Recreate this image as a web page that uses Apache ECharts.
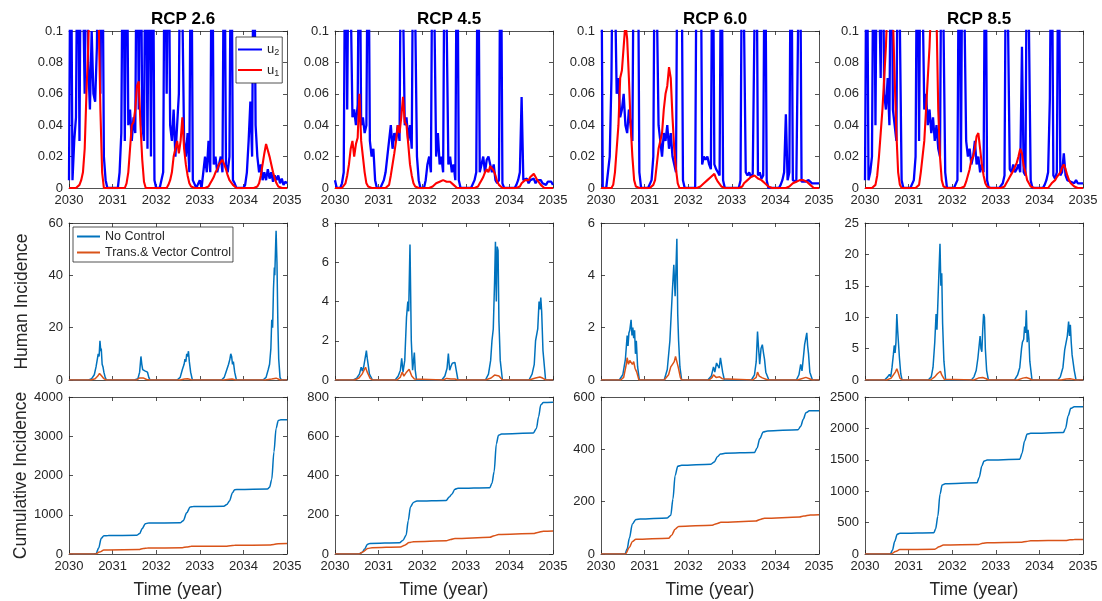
<!DOCTYPE html>
<html lang="en">
<head>
<meta charset="UTF-8">
<title>RCP scenarios: controls and incidence</title>
<script src="https://cdn.jsdelivr.net/npm/echarts@6/dist/echarts.min.js"></script>
<style>
    html, body { margin: 0; padding: 0; background: #fff; }
    #chart { width: 1102px; height: 601px; }
</style>
</head>
<body>
<div id="chart"></div>
<script>
// scenario titles
const scenarios = ['RCP 2.6', 'RCP 4.5', 'RCP 6.0', 'RCP 8.5'];

// controls u2 (blue) and u1 (red), one value every 0.04 year from 2030, one line per year
const u2_26 = [
    0.005, 0.2, 0.005, 0.03, 0.045, 0.2, 0.03, 0.2, 0.2, 0.06, 0.2, 0.08, 0.05, 0.1, 0.06, 0.055, 0.09, 0.2, 0.06, 0.2, 0.02, 0.005, 0, 0, 0,
    0, 0, 0, 0, 0.01, 0.035, 0.2, 0.03, 0.2, 0.04, 0.05, 0.03, 0.045, 0.035, 0.2, 0.05, 0.2, 0.04, 0.03, 0.2, 0.025, 0.2, 0.02, 0.2, 0.005,
    0, 0, 0, 0, 0.01, 0.2, 0.06, 0.2, 0.04, 0.03, 0.05, 0.02, 0.04, 0.06, 0.2, 0.2, 0.03, 0.02, 0.035, 0.01, 0.2, 0.005, 0.005, 0, 0,
    0.005, 0, 0.01, 0.02, 0.01, 0.03, 0.01, 0.2, 0.015, 0.02, 0.01, 0.015, 0.02, 0.01, 0.2, 0.015, 0.01, 0.02, 0.2, 0.005, 0.003, 0, 0, 0, 0,
    0, 0.002, 0.01, 0.03, 0.055, 0.02, 0.2, 0.04, 0.02, 0.01, 0.015, 0.005, 0.01, 0.005, 0.012, 0.006, 0.01, 0.004, 0.008, 0.005, 0.008, 0.003, 0.006, 0.002, 0.004,
    0.003
];
const u1_26 = [
    0, 0, 0, 0, 0, 0, 0.002, 0.005, 0.01, 0.025, 0.06, 0.09, 0.13, 0.15, 0.14, 0.16, 0.13, 0.11, 0.05, 0.01, 0, 0, 0, 0, 0,
    0, 0, 0, 0, 0, 0, 0, 0, 0.003, 0.01, 0.025, 0.04, 0.042, 0.05, 0.065, 0.068, 0.04, 0.018, 0.004, 0, 0, 0, 0, 0, 0,
    0, 0, 0, 0, 0, 0, 0, 0.002, 0.005, 0.01, 0.02, 0.025, 0.03, 0.022, 0.03, 0.045, 0.025, 0.015, 0.008, 0.003, 0.001, 0, 0, 0, 0,
    0, 0, 0, 0, 0, 0.001, 0.003, 0.005, 0.007, 0.01, 0.012, 0.015, 0.014, 0.018, 0.015, 0.012, 0.008, 0.005, 0.004, 0.002, 0.001, 0, 0, 0, 0,
    0, 0, 0, 0, 0, 0, 0, 0, 0.001, 0.003, 0.008, 0.015, 0.022, 0.028, 0.024, 0.02, 0.015, 0.01, 0.006, 0.003, 0.001, 0, 0, 0, 0,
    0
];
const u2_45 = [
    0.005, 0, 0, 0, 0.003, 0.01, 0.2, 0.05, 0.2, 0.2, 0.045, 0.05, 0.04, 0.053, 0.2, 0.04, 0.045, 0.035, 0.04, 0.2, 0.03, 0.02, 0.025, 0.005, 0,
    0, 0, 0, 0.005, 0.01, 0.02, 0.03, 0.04, 0.025, 0.035, 0.03, 0.04, 0.03, 0.2, 0.2, 0.04, 0.045, 0.03, 0.04, 0.025, 0.2, 0.2, 0.02, 0.005, 0,
    0, 0, 0.005, 0.015, 0.02, 0.01, 0.2, 0.2, 0.02, 0.035, 0.015, 0.02, 0.01, 0.2, 0.2, 0.015, 0.02, 0.01, 0.015, 0.005, 0.2, 0.005, 0, 0, 0,
    0, 0, 0, 0, 0, 0.005, 0.01, 0.2, 0.01, 0.015, 0.02, 0.01, 0.018, 0.02, 0.015, 0.01, 0.015, 0.005, 0.003, 0.005, 0.2, 0.003, 0, 0, 0,
    0, 0, 0, 0, 0.002, 0.005, 0.01, 0.058, 0.005, 0.004, 0.006, 0.003, 0.005, 0.004, 0.006, 0.003, 0.005, 0.004, 0.005, 0.003, 0.004, 0.002, 0.004, 0.003, 0.004,
    0.002
];
const u1_45 = [
    0, 0, 0, 0, 0, 0.001, 0.003, 0.008, 0.015, 0.025, 0.03, 0.02, 0.028, 0.032, 0.06, 0.03, 0.02, 0.01, 0.003, 0.001, 0, 0, 0, 0, 0,
    0, 0, 0, 0, 0, 0, 0.002, 0.008, 0.015, 0.022, 0.03, 0.04, 0.035, 0.045, 0.058, 0.042, 0.04, 0.028, 0.015, 0.008, 0.003, 0.001, 0, 0, 0,
    0, 0, 0, 0, 0, 0, 0.001, 0.002, 0.003, 0.004, 0.004, 0.005, 0.005, 0.005, 0.004, 0.005, 0.004, 0.003, 0.002, 0.001, 0, 0, 0, 0, 0,
    0, 0, 0, 0, 0, 0, 0, 0.001, 0.003, 0.005, 0.007, 0.01, 0.012, 0.01, 0.014, 0.015, 0.011, 0.008, 0.004, 0.002, 0.001, 0, 0, 0, 0,
    0, 0, 0, 0, 0, 0, 0.001, 0.003, 0.004, 0.005, 0.006, 0.005, 0.007, 0.008, 0.009, 0.007, 0.005, 0.004, 0.002, 0.001, 0, 0, 0, 0, 0,
    0
];
const u2_60 = [
    0.2, 0, 0, 0, 0, 0.02, 0.07, 0.2, 0.2, 0.06, 0.07, 0.045, 0.05, 0.06, 0.04, 0.035, 0.05, 0.04, 0.03, 0.2, 0.2, 0.2, 0.01, 0, 0,
    0, 0, 0, 0, 0.005, 0.02, 0.2, 0.2, 0.04, 0.03, 0.02, 0.035, 0.03, 0.04, 0.025, 0.035, 0.02, 0.015, 0.01, 0.2, 0.2, 0.2, 0.005, 0, 0,
    0, 0, 0, 0, 0, 0.2, 0.2, 0.2, 0.015, 0.02, 0.018, 0.02, 0.015, 0.012, 0.2, 0.015, 0.012, 0.01, 0.008, 0.2, 0.005, 0, 0, 0, 0,
    0, 0, 0, 0, 0, 0.005, 0.2, 0.2, 0.01, 0.008, 0.01, 0.007, 0.009, 0.01, 0.2, 0.008, 0.01, 0.006, 0.008, 0.2, 0.005, 0, 0, 0, 0,
    0, 0, 0, 0.002, 0.005, 0.01, 0.047, 0.005, 0.01, 0.2, 0.005, 0.006, 0.004, 0.005, 0.2, 0.004, 0.005, 0.004, 0.003, 0.005, 0.004, 0.003, 0.004, 0.003, 0.004,
    0.003
];
const u1_60 = [
    0, 0, 0, 0, 0, 0, 0, 0.002, 0.01, 0.025, 0.04, 0.07, 0.075, 0.09, 0.105, 0.095, 0.07, 0.04, 0.02, 0.005, 0.001, 0, 0, 0, 0,
    0, 0, 0, 0, 0, 0.002, 0.005, 0.015, 0.025, 0.03, 0.035, 0.05, 0.06, 0.065, 0.077, 0.07, 0.045, 0.025, 0.012, 0.003, 0, 0, 0, 0, 0,
    0, 0, 0, 0, 0, 0, 0, 0.001, 0.002, 0.003, 0.004, 0.005, 0.006, 0.007, 0.008, 0.009, 0.006, 0.004, 0.003, 0.001, 0, 0, 0, 0, 0,
    0, 0, 0, 0, 0, 0, 0.001, 0.003, 0.004, 0.005, 0.006, 0.007, 0.008, 0.008, 0.007, 0.006, 0.005, 0.005, 0.004, 0.003, 0.002, 0.001, 0, 0, 0,
    0, 0, 0, 0, 0, 0, 0, 0, 0.001, 0.002, 0.003, 0.004, 0.004, 0.005, 0.005, 0.004, 0.005, 0.004, 0.004, 0.003, 0.002, 0.001, 0, 0, 0,
    0
];
const u2_85 = [
    0.005, 0.2, 0.005, 0.01, 0.02, 0.2, 0.04, 0.2, 0.2, 0.07, 0.2, 0.06, 0.05, 0.07, 0.04, 0.2, 0.05, 0.04, 0.03, 0.2, 0.2, 0.005, 0, 0, 0,
    0, 0, 0, 0.005, 0.02, 0.2, 0.03, 0.2, 0.2, 0.05, 0.06, 0.04, 0.05, 0.035, 0.045, 0.03, 0.04, 0.025, 0.02, 0.2, 0.2, 0.01, 0, 0, 0,
    0, 0, 0, 0.005, 0.2, 0.01, 0.2, 0.2, 0.03, 0.02, 0.025, 0.015, 0.02, 0.03, 0.015, 0.02, 0.01, 0.015, 0.01, 0.2, 0.005, 0, 0, 0, 0,
    0, 0, 0, 0, 0.003, 0.008, 0.2, 0.2, 0.012, 0.01, 0.015, 0.01, 0.012, 0.015, 0.01, 0.09, 0.01, 0.008, 0.2, 0.2, 0.005, 0, 0, 0, 0,
    0, 0, 0, 0.002, 0.005, 0.01, 0.057, 0.2, 0.008, 0.006, 0.01, 0.2, 0.008, 0.01, 0.022, 0.008, 0.005, 0.006, 0.004, 0.005, 0.003, 0.005, 0.003, 0.004, 0.003,
    0.003
];
const u1_85 = [
    0, 0, 0, 0, 0, 0, 0.002, 0.008, 0.02, 0.035, 0.05, 0.07, 0.09, 0.12, 0.14, 0.13, 0.11, 0.07, 0.035, 0.01, 0.002, 0, 0, 0, 0,
    0, 0, 0, 0, 0, 0, 0.002, 0.01, 0.02, 0.03, 0.05, 0.07, 0.09, 0.12, 0.13, 0.14, 0.11, 0.05, 0.02, 0.005, 0.001, 0, 0, 0, 0,
    0, 0, 0, 0, 0, 0, 0, 0.001, 0.004, 0.008, 0.012, 0.018, 0.02, 0.025, 0.033, 0.035, 0.025, 0.015, 0.008, 0.003, 0.001, 0, 0, 0, 0,
    0, 0, 0, 0, 0, 0.001, 0.003, 0.005, 0.007, 0.009, 0.011, 0.012, 0.016, 0.02, 0.025, 0.022, 0.014, 0.01, 0.005, 0.003, 0.001, 0, 0, 0, 0,
    0, 0, 0, 0, 0, 0, 0.001, 0.003, 0.004, 0.005, 0.007, 0.008, 0.01, 0.013, 0.015, 0.012, 0.008, 0.005, 0.003, 0.002, 0.001, 0, 0, 0, 0,
    0
];

// human incidence [year, value], no control / trans.& vector control
const inc26NC = [[2030,0],[2030.45,0],[2030.52,0.5],[2030.58,2],[2030.62,5],[2030.65,8],[2030.67,10],[2030.69,9],[2030.71,15],[2030.73,11],[2030.74,12],[2030.76,6],[2030.78,5],[2030.8,3],[2030.83,1],[2030.86,0],
    [2031.5,0],[2031.58,0.5],[2031.62,3],[2031.65,9],[2031.67,6],[2031.69,4],[2031.71,4.5],[2031.74,3.5],[2031.77,4],[2031.8,3],[2031.83,1],[2031.86,0],
    [2032.48,0],[2032.55,1],[2032.6,4],[2032.64,6],[2032.66,8],[2032.68,7],[2032.7,10],[2032.72,9],[2032.74,11],[2032.76,7],[2032.79,3],[2032.83,0],
    [2033.5,0],[2033.56,1],[2033.6,3],[2033.63,2.5],[2033.66,6],[2033.69,8],[2033.71,10],[2033.73,9],[2033.75,6],[2033.77,7],[2033.8,3],[2033.84,0],
    [2034.45,0],[2034.52,1],[2034.57,4],[2034.6,6],[2034.63,12],[2034.65,23],[2034.67,20],[2034.69,35],[2034.71,43],[2034.72,40],[2034.74,52],[2034.75,57],[2034.77,45],[2034.79,22],[2034.81,8],[2034.84,1],[2034.87,0],[2035,0]];
const inc26TV = [[2030,0],[2030.5,0],[2030.6,0.5],[2030.66,1.5],[2030.7,2.5],[2030.72,2],[2030.75,1.5],[2030.8,0.5],[2030.86,0],
    [2031.55,0],[2031.62,0.8],[2031.66,1.5],[2031.7,0.8],[2031.78,0.2],[2031.85,0],
    [2032.55,0],[2032.65,0.4],[2032.72,0.5],[2032.8,0.1],[2032.85,0],
    [2033.55,0],[2033.68,0.3],[2033.74,0.4],[2033.82,0],
    [2034.5,0],[2034.65,0.4],[2034.75,0.7],[2034.85,0],[2035,0]];
const inc45NC = [[2030,0],[2030.42,0],[2030.5,0.1],[2030.56,0.3],[2030.6,0.65],[2030.63,0.45],[2030.66,0.7],[2030.69,0.6],[2030.72,1.5],[2030.74,1.1],[2030.76,0.8],[2030.79,0.3],[2030.86,0],
    [2031.38,0],[2031.45,0.2],[2031.5,0.5],[2031.53,1.1],[2031.56,0.4],[2031.6,1],[2031.64,3.2],[2031.67,4],[2031.69,3.5],[2031.72,6.9],[2031.75,2],[2031.78,0.5],[2031.82,1.4],[2031.84,0.5],[2031.87,0],
    [2032.45,0],[2032.52,0.2],[2032.57,0.6],[2032.6,1.35],[2032.63,0.5],[2032.66,0.7],[2032.69,0.85],[2032.72,0.8],[2032.75,0.9],[2032.78,0.5],[2032.82,0],
    [2033.45,0],[2033.52,0.3],[2033.57,1],[2033.6,2],[2033.63,2.6],[2033.66,5],[2033.68,7.05],[2033.7,4],[2033.72,6.8],[2033.74,6.6],[2033.76,3],[2033.79,1],[2033.84,0],
    [2034.45,0],[2034.52,0.3],[2034.57,0.8],[2034.6,2],[2034.63,2.1],[2034.65,2.6],[2034.68,4],[2034.7,3.6],[2034.72,4.2],[2034.74,3.5],[2034.77,1.5],[2034.83,0],[2035,0]];
const inc45TV = [[2030,0],[2030.45,0],[2030.55,0.1],[2030.62,0.3],[2030.66,0.4],[2030.7,0.65],[2030.74,0.4],[2030.8,0.1],[2030.86,0],
    [2031.42,0],[2031.5,0.15],[2031.54,0.4],[2031.58,0.2],[2031.64,0.4],[2031.7,0.55],[2031.72,0.6],[2031.76,0.2],[2031.82,0.05],[2031.86,0],
    [2032.48,0],[2032.56,0.08],[2032.6,0.15],[2032.66,0.05],[2032.75,0.05],[2032.82,0],
    [2033.45,0],[2033.58,0.1],[2033.66,0.25],[2033.7,0.3],[2033.76,0.2],[2033.84,0],
    [2034.45,0],[2034.6,0.1],[2034.7,0.15],[2034.76,0.1],[2034.84,0],[2035,0]];
const inc60NC = [[2030,0],[2030.42,0],[2030.5,0.2],[2030.56,0.8],[2030.6,1.7],[2030.62,1.3],[2030.64,1.8],[2030.66,1.9],[2030.69,2.3],[2030.71,1.7],[2030.73,2],[2030.75,1.6],[2030.77,1.9],[2030.79,1],[2030.81,1.5],[2030.84,0.5],[2030.88,0],
    [2031.45,0],[2031.52,0.4],[2031.58,1.5],[2031.61,2.5],[2031.64,3.5],[2031.67,4.4],[2031.7,3.2],[2031.72,4.3],[2031.74,5.4],[2031.76,2.5],[2031.78,1.5],[2031.81,0.5],[2031.85,0],
    [2032.45,0],[2032.53,0.15],[2032.58,0.5],[2032.61,0.3],[2032.65,0.65],[2032.68,0.7],[2032.71,0.45],[2032.74,0.85],[2032.76,0.9],[2032.79,0.3],[2032.83,0],
    [2033.45,0],[2033.52,0.2],[2033.56,0.7],[2033.59,1.85],[2033.61,1.3],[2033.64,0.6],[2033.67,1.2],[2033.7,1.35],[2033.73,1],[2033.75,0.8],[2033.78,0.3],[2033.85,0],
    [2034.48,0],[2034.54,0.2],[2034.58,0.6],[2034.61,0.35],[2034.65,1],[2034.67,1.35],[2034.7,1.4],[2034.72,1.8],[2034.74,1.3],[2034.76,1],[2034.79,0.3],[2034.85,0],[2035,0]];
const inc60TV = [[2030,0],[2030.45,0],[2030.52,0.1],[2030.58,0.6],[2030.6,0.85],[2030.63,0.6],[2030.66,0.75],[2030.69,0.8],[2030.72,0.6],[2030.75,0.7],[2030.78,0.45],[2030.82,0.3],[2030.87,0],
    [2031.45,0],[2031.55,0.2],[2031.6,0.5],[2031.64,0.6],[2031.68,0.7],[2031.71,0.9],[2031.74,0.95],[2031.77,0.5],[2031.82,0.1],[2031.85,0],
    [2032.48,0],[2032.55,0.1],[2032.58,0.2],[2032.64,0.1],[2032.72,0.12],[2032.78,0.05],[2032.82,0],
    [2033.48,0],[2033.56,0.1],[2033.59,0.3],[2033.63,0.15],[2033.7,0.08],[2033.8,0.02],[2033.85,0],
    [2034.5,0],[2034.6,0.05],[2034.7,0.1],[2034.78,0.05],[2034.85,0],[2035,0]];
const inc85NC = [[2030,0],[2030.45,0],[2030.52,0.5],[2030.56,0.9],[2030.59,0.5],[2030.62,2],[2030.65,4],[2030.67,5.5],[2030.69,4.3],[2030.71,6],[2030.73,10.5],[2030.75,7.8],[2030.77,8],[2030.79,3.5],[2030.82,1],[2030.85,0],
    [2031.45,0],[2031.52,0.5],[2031.56,2],[2031.6,6],[2031.63,10.5],[2031.65,8],[2031.67,12],[2031.69,16],[2031.72,21.7],[2031.74,15],[2031.76,17],[2031.78,9],[2031.81,3],[2031.85,0],
    [2032.44,0],[2032.5,0.5],[2032.55,1.5],[2032.59,3.5],[2032.61,3.2],[2032.64,7],[2032.66,5],[2032.68,4.5],[2032.7,8],[2032.72,10.5],[2032.74,10],[2032.76,5],[2032.79,1.5],[2032.83,0],
    [2033.43,0],[2033.5,0.8],[2033.55,2],[2033.59,5],[2033.61,6],[2033.64,6.5],[2033.66,8.5],[2033.68,7.5],[2033.7,11.1],[2033.72,6],[2033.74,8],[2033.76,6.5],[2033.78,3],[2033.83,0],
    [2034.42,0],[2034.48,0.5],[2034.54,2],[2034.58,4.8],[2034.61,5],[2034.64,7],[2034.67,9.3],[2034.69,7],[2034.71,8.8],[2034.73,6],[2034.75,4],[2034.77,4.2],[2034.8,1.5],[2034.84,0],[2035,0]];
const inc85TV = [[2030,0],[2030.5,0],[2030.6,0.3],[2030.66,0.9],[2030.7,1.3],[2030.73,1.8],[2030.76,1.2],[2030.8,0.3],[2030.85,0],
    [2031.5,0],[2031.6,0.5],[2031.66,1],[2031.7,1.3],[2031.73,1.4],[2031.76,0.8],[2031.82,0.1],[2031.85,0],
    [2032.5,0],[2032.6,0.3],[2032.7,0.4],[2032.78,0.2],[2032.83,0],
    [2033.5,0],[2033.62,0.3],[2033.7,0.4],[2033.78,0.2],[2033.83,0],
    [2034.5,0],[2034.62,0.15],[2034.7,0.2],[2034.78,0.1],[2034.84,0],[2035,0]];

// cumulative incidence [year, value]
const cum26NC = [[2030,0],[2030.55,0],[2030.62,10],[2030.68,150],[2030.74,400],[2030.8,465],[2030.9,470],[2031.55,475],[2031.62,520],[2031.68,650],[2031.75,770],[2031.82,790],[2032.55,795],[2032.62,850],[2032.7,1050],[2032.78,1200],[2032.85,1210],[2033.55,1215],[2033.62,1260],[2033.68,1350],[2033.75,1560],[2033.8,1640],[2033.9,1645],[2034.55,1655],[2034.6,1700],[2034.65,1900],[2034.7,2600],[2034.75,3200],[2034.8,3400],[2034.86,3420],[2035,3420]];
const cum26TV = [[2030,0],[2030.6,0],[2030.7,50],[2030.8,100],[2030.9,105],[2031.6,112],[2031.7,140],[2031.8,152],[2032.6,160],[2032.7,180],[2032.8,195],[2033.6,200],[2033.7,212],[2033.8,220],[2034.6,228],[2034.7,245],[2034.8,262],[2035,265]];
const cum45NC = [[2030,0],[2030.55,0],[2030.62,8],[2030.68,25],[2030.74,48],[2030.8,54],[2031.48,57],[2031.56,70],[2031.63,95],[2031.68,170],[2031.73,240],[2031.8,263],[2031.88,270],[2032.55,273],[2032.62,290],[2032.68,305],[2032.75,330],[2032.82,335],[2033.55,338],[2033.6,360],[2033.65,420],[2033.7,560],[2033.75,605],[2033.82,612],[2034.55,617],[2034.62,640],[2034.67,700],[2034.72,760],[2034.78,772],[2035,773]];
const cum45TV = [[2030,0],[2030.55,0],[2030.65,12],[2030.75,28],[2030.85,32],[2031.5,36],[2031.6,45],[2031.7,58],[2031.8,63],[2032.55,67],[2032.65,74],[2032.75,79],[2033.55,85],[2033.65,93],[2033.75,99],[2034.55,104],[2034.65,110],[2034.78,116],[2035,117]];
const cum60NC = [[2030,0],[2030.55,0],[2030.6,20],[2030.65,60],[2030.72,115],[2030.8,132],[2030.9,134],[2031.52,138],[2031.6,148],[2031.65,210],[2031.7,300],[2031.76,335],[2031.85,339],[2032.52,343],[2032.6,352],[2032.67,372],[2032.74,382],[2032.85,385],[2033.52,388],[2033.58,405],[2033.64,440],[2033.72,466],[2033.82,470],[2034.52,475],[2034.58,488],[2034.64,515],[2034.7,540],[2034.78,547],[2035,547]];
const cum60TV = [[2030,0],[2030.56,0],[2030.65,25],[2030.72,48],[2030.8,56],[2031.55,60],[2031.62,72],[2031.7,95],[2031.78,105],[2032.55,110],[2032.65,116],[2032.75,121],[2033.55,126],[2033.65,132],[2033.75,137],[2034.55,141],[2034.65,145],[2034.8,149],[2035,150]];
const cum85NC = [[2030,0],[2030.58,0],[2030.63,60],[2030.68,200],[2030.74,315],[2030.8,330],[2031.58,340],[2031.62,400],[2031.67,600],[2031.72,950],[2031.77,1100],[2031.84,1120],[2032.57,1135],[2032.62,1220],[2032.68,1400],[2032.73,1480],[2032.8,1495],[2033.55,1510],[2033.6,1600],[2033.66,1800],[2033.72,1910],[2033.8,1922],[2034.55,1935],[2034.6,2000],[2034.66,2200],[2034.72,2320],[2034.8,2345],[2035,2345]];
const cum85TV = [[2030,0],[2030.6,0],[2030.7,40],[2030.8,70],[2031.6,76],[2031.7,115],[2031.8,145],[2032.6,152],[2032.7,170],[2032.8,180],[2033.6,187],[2033.7,200],[2033.8,210],[2034.6,216],[2034.7,225],[2034.8,231],[2035,232]];

// y axis ranges per row and column
const topMax = [0.1, 0.1, 0.1, 0.1];
const topStep = [0.02, 0.02, 0.02, 0.02];
const incMax = [60, 8, 6, 25];
const incStep = [20, 2, 2, 5];
const cumMax = [4000, 800, 600, 2500];
const cumStep = [1000, 200, 200, 500];

const u2 = [u2_26, u2_45, u2_60, u2_85];
const u1 = [u1_26, u1_45, u1_60, u1_85];
const incNC = [inc26NC, inc45NC, inc60NC, inc85NC];
const incTV = [inc26TV, inc45TV, inc60TV, inc85TV];
const cumNC = [cum26NC, cum45NC, cum60NC, cum85NC];
const cumTV = [cum26TV, cum45TV, cum60TV, cum85TV];

// the control arrays are sampled every 0.04 year
function toPairs(vals) {
    return vals.map((v, i) => [2030 + i * 0.04, v]);
}

// plain numbers, no thousands separator
function plain(v) {
    return String(Math.round(v * 1000) / 1000);
}

const font = 'Liberation Sans, Arial, Helvetica, sans-serif';
const ink = '#262626';
const colLeft = [69, 335, 601, 865];
const rowTop = [31, 223, 397];
const W = 218, H = 157;

let grid = [], xAxis = [], yAxis = [], series = [], title = [];

for (let r = 0; r < 3; r++) {
    for (let c = 0; c < 4; c++) {
        const g = r * 4 + c;
        grid.push({ left: colLeft[c], top: rowTop[r], width: W, height: H, containLabel: false });

        const line = { show: true, onZero: false, lineStyle: { color: ink, width: 0.8 } };
        const tick = { show: true, inside: true, length: 4, lineStyle: { color: ink, width: 0.8 } };
        const label = { color: ink, fontSize: 13, fontFamily: font, formatter: plain };

        // bottom x axis
        xAxis.push({
            type: 'value', gridIndex: g, min: 2030, max: 2035, interval: 1,
            axisLine: line, axisTick: tick, splitLine: { show: false },
            axisLabel: Object.assign({ show: r !== 1, margin: 6 }, label),
            name: r === 2 ? 'Time (year)' : '', nameLocation: 'middle', nameGap: 27,
            nameTextStyle: { color: ink, fontSize: 17.5, fontFamily: font }
        });
        // top x axis, only ticks (box)
        xAxis.push({
            type: 'value', gridIndex: g, position: 'top', min: 2030, max: 2035, interval: 1,
            axisLine: line, axisTick: tick, splitLine: { show: false }, axisLabel: { show: false }
        });

        let max, step;
        if (r === 0) { max = topMax[c]; step = topStep[c]; }
        else if (r === 1) { max = incMax[c]; step = incStep[c]; }
        else { max = cumMax[c]; step = cumStep[c]; }

        let yName = '';
        if (c === 0 && r === 1) yName = 'Human Incidence';
        if (c === 0 && r === 2) yName = 'Cumulative Incidence';

        yAxis.push({
            type: 'value', gridIndex: g, min: 0, max: max, interval: step,
            axisLine: line, axisTick: tick, splitLine: { show: false },
            axisLabel: Object.assign({ margin: 6 }, label),
            name: yName, nameLocation: 'middle', nameGap: 38,
            nameTextStyle: { color: ink, fontSize: 17.5, fontFamily: font }
        });
        yAxis.push({
            type: 'value', gridIndex: g, position: 'right', min: 0, max: max, interval: step,
            axisLine: line, axisTick: tick, splitLine: { show: false }, axisLabel: { show: false }
        });

        const base = { type: 'line', xAxisIndex: 2 * g, yAxisIndex: 2 * g, symbol: 'none', showSymbol: false, clip: true, animation: false };
        if (r === 0) {
            series.push(Object.assign({}, base, { name: 'u2', data: toPairs(u2[c]), lineStyle: { color: '#0000ff', width: 2.3 }, itemStyle: { color: '#0000ff' } }));
            series.push(Object.assign({}, base, { name: 'u1', data: toPairs(u1[c]), lineStyle: { color: '#ff0000', width: 2.1 }, itemStyle: { color: '#ff0000' } }));
        } else if (r === 1) {
            series.push(Object.assign({}, base, { name: 'No Control', data: incNC[c], lineStyle: { color: '#0072BD', width: 1.5 }, itemStyle: { color: '#0072BD' } }));
            series.push(Object.assign({}, base, { name: 'Trans.& Vector Control', data: incTV[c], lineStyle: { color: '#D95319', width: 1.5 }, itemStyle: { color: '#D95319' } }));
        } else {
            series.push(Object.assign({}, base, { name: 'No Control', data: cumNC[c], smooth: 0.3, smoothMonotone: 'x', lineStyle: { color: '#0072BD', width: 1.5 }, itemStyle: { color: '#0072BD' } }));
            series.push(Object.assign({}, base, { name: 'Trans.& Vector Control', data: cumTV[c], smooth: 0.3, smoothMonotone: 'x', lineStyle: { color: '#D95319', width: 1.5 }, itemStyle: { color: '#D95319' } }));
        }
    }
}

// panel titles
scenarios.forEach((s, c) => {
    title.push({
        text: s, left: colLeft[c] + W / 2, top: 6, textAlign: 'center',
        textStyle: { color: '#000', fontSize: 17, fontWeight: 'bold', fontFamily: font }
    });
});

const legend = [
    {
        data: ['u2', 'u1'], selectedMode: false, orient: 'vertical', icon: 'rect',
        left: 236, top: 37, padding: [6, 3, 5, 2], itemGap: 6, itemWidth: 24, itemHeight: 2,
        borderColor: ink, borderWidth: 0.8, backgroundColor: '#fff',
        formatter: n => '{m|u}{s|' + n.slice(1) + '}',
        textStyle: {
            color: ink, fontFamily: font,
            rich: {
                m: { fontSize: 13, fontFamily: font, color: ink },
                s: { fontSize: 9, fontFamily: font, color: ink, padding: [7, 0, 0, 0] }
            }
        }
    },
    {
        data: ['No Control', 'Trans.& Vector Control'], selectedMode: false, orient: 'vertical', icon: 'rect',
        left: 73, top: 227, padding: [3, 2, 3, 4], itemGap: 3, itemWidth: 23, itemHeight: 2,
        borderColor: ink, borderWidth: 0.8, backgroundColor: '#fff',
        textStyle: { color: ink, fontSize: 12.5, fontFamily: font }
    }
];

const myChart = echarts.init(document.getElementById('chart'), null, { renderer: 'canvas' });
myChart.setOption({
    animation: false,
    backgroundColor: '#fff',
    title: title,
    legend: legend,
    grid: grid,
    xAxis: xAxis,
    yAxis: yAxis,
    series: series
});
</script>
</body>
</html>
